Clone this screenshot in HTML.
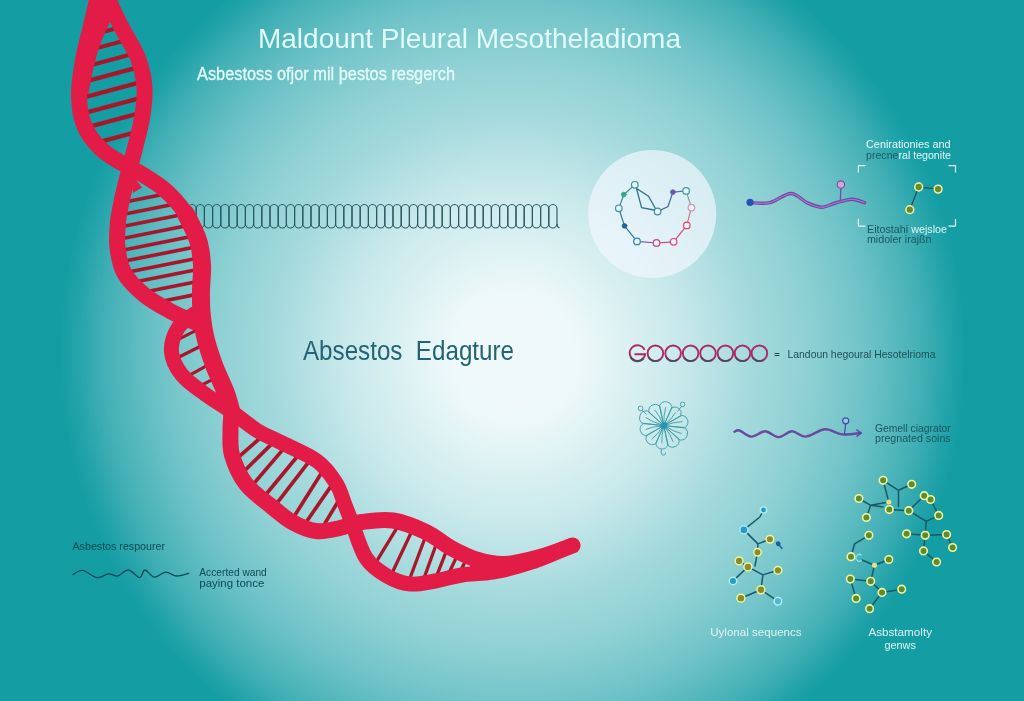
<!DOCTYPE html>
<html lang="en"><head><meta charset="utf-8"><title>Maldount Pleural Mesotheladioma</title>
<style>html,body{margin:0;padding:0;background:#159da4;overflow:hidden}body{width:1024px;height:701px}svg{display:block}text{font-family:"Liberation Sans", sans-serif}</style></head><body>
<svg width="1024" height="701" viewBox="0 0 1024 701">
<defs>
<radialGradient id="bg" cx="0" cy="0" r="1" fx="-0.0095" fy="0.0014" gradientUnits="userSpaceOnUse" gradientTransform="translate(512.27 352.81) rotate(257.26) scale(490.20 487.29)"><stop offset="0.00" stop-color="#eff9fa"/><stop offset="0.03" stop-color="#eff9fa"/><stop offset="0.06" stop-color="#eff9fa"/><stop offset="0.09" stop-color="#eff9fa"/><stop offset="0.12" stop-color="#eef9fa"/><stop offset="0.15" stop-color="#ebf7f8"/><stop offset="0.18" stop-color="#e5f5f6"/><stop offset="0.21" stop-color="#e0f3f4"/><stop offset="0.24" stop-color="#daf0f2"/><stop offset="0.27" stop-color="#d5eef0"/><stop offset="0.30" stop-color="#d0ecee"/><stop offset="0.33" stop-color="#cbeaec"/><stop offset="0.36" stop-color="#c5e7e9"/><stop offset="0.39" stop-color="#bee4e7"/><stop offset="0.42" stop-color="#b6e1e4"/><stop offset="0.45" stop-color="#afdee1"/><stop offset="0.48" stop-color="#a7dbde"/><stop offset="0.51" stop-color="#a1d8db"/><stop offset="0.54" stop-color="#9bd6d9"/><stop offset="0.57" stop-color="#96d3d7"/><stop offset="0.60" stop-color="#90d1d4"/><stop offset="0.63" stop-color="#88ced1"/><stop offset="0.66" stop-color="#80cace"/><stop offset="0.69" stop-color="#78c7cb"/><stop offset="0.72" stop-color="#70c3c8"/><stop offset="0.75" stop-color="#65bfc4"/><stop offset="0.78" stop-color="#5ababf"/><stop offset="0.81" stop-color="#4eb5ba"/><stop offset="0.84" stop-color="#42b0b6"/><stop offset="0.87" stop-color="#32a9af"/><stop offset="0.90" stop-color="#21a2a9"/><stop offset="0.93" stop-color="#159da4"/><stop offset="0.96" stop-color="#159da4"/><stop offset="0.99" stop-color="#159da4"/></radialGradient>
<radialGradient id="bg2" cx="0" cy="0" r="1" gradientUnits="userSpaceOnUse" gradientTransform="translate(400 350) scale(260 270)"><stop offset="0" stop-color="#e6f6f7" stop-opacity="0.55"/><stop offset="0.5" stop-color="#e6f6f7" stop-opacity="0.35"/><stop offset="1" stop-color="#e6f6f7" stop-opacity="0"/></radialGradient>
<radialGradient id="bg3" cx="0.5" cy="0.5" r="0.5"><stop offset="0" stop-color="#dff4f5" stop-opacity="0.2"/><stop offset="0.5" stop-color="#dff4f5" stop-opacity="0.12"/><stop offset="1" stop-color="#dff4f5" stop-opacity="0"/></radialGradient>
<filter id="soft" x="-5%" y="-5%" width="110%" height="110%"><feGaussianBlur stdDeviation="0.35"/></filter>
<filter id="soft2" x="-5%" y="-5%" width="110%" height="110%"><feGaussianBlur stdDeviation="0.5"/></filter>
</defs>
<rect width="1024" height="701" fill="#159da4"/>
<rect width="1024" height="701" fill="url(#bg)"/>
<g fill="none" stroke="#2b5a64" stroke-width="1.15" filter="url(#soft)"><rect x="188.00" y="204.5" width="8.20" height="23.5" rx="4.10" ry="4.6"/><rect x="196.20" y="204.5" width="8.20" height="23.5" rx="4.10" ry="4.6"/><rect x="204.40" y="204.5" width="8.20" height="23.5" rx="4.10" ry="4.6"/><rect x="212.60" y="204.5" width="8.20" height="23.5" rx="4.10" ry="4.6"/><rect x="220.80" y="204.5" width="8.20" height="23.5" rx="4.10" ry="4.6"/><rect x="229.00" y="204.5" width="8.20" height="23.5" rx="4.10" ry="4.6"/><rect x="237.20" y="204.5" width="8.20" height="23.5" rx="4.10" ry="4.6"/><rect x="245.40" y="204.5" width="8.20" height="23.5" rx="4.10" ry="4.6"/><rect x="253.60" y="204.5" width="8.20" height="23.5" rx="4.10" ry="4.6"/><rect x="261.80" y="204.5" width="8.20" height="23.5" rx="4.10" ry="4.6"/><rect x="270.00" y="204.5" width="8.20" height="23.5" rx="4.10" ry="4.6"/><rect x="278.20" y="204.5" width="8.20" height="23.5" rx="4.10" ry="4.6"/><rect x="286.40" y="204.5" width="8.20" height="23.5" rx="4.10" ry="4.6"/><rect x="294.60" y="204.5" width="8.20" height="23.5" rx="4.10" ry="4.6"/><rect x="302.80" y="204.5" width="8.20" height="23.5" rx="4.10" ry="4.6"/><rect x="311.00" y="204.5" width="8.20" height="23.5" rx="4.10" ry="4.6"/><rect x="319.20" y="204.5" width="8.20" height="23.5" rx="4.10" ry="4.6"/><rect x="327.40" y="204.5" width="8.20" height="23.5" rx="4.10" ry="4.6"/><rect x="335.60" y="204.5" width="8.20" height="23.5" rx="4.10" ry="4.6"/><rect x="343.80" y="204.5" width="8.20" height="23.5" rx="4.10" ry="4.6"/><rect x="352.00" y="204.5" width="8.20" height="23.5" rx="4.10" ry="4.6"/><rect x="360.20" y="204.5" width="8.20" height="23.5" rx="4.10" ry="4.6"/><rect x="368.40" y="204.5" width="8.20" height="23.5" rx="4.10" ry="4.6"/><rect x="376.60" y="204.5" width="8.20" height="23.5" rx="4.10" ry="4.6"/><rect x="384.80" y="204.5" width="8.20" height="23.5" rx="4.10" ry="4.6"/><rect x="393.00" y="204.5" width="8.20" height="23.5" rx="4.10" ry="4.6"/><rect x="401.20" y="204.5" width="8.20" height="23.5" rx="4.10" ry="4.6"/><rect x="409.40" y="204.5" width="8.20" height="23.5" rx="4.10" ry="4.6"/><rect x="417.60" y="204.5" width="8.20" height="23.5" rx="4.10" ry="4.6"/><rect x="425.80" y="204.5" width="8.20" height="23.5" rx="4.10" ry="4.6"/><rect x="434.00" y="204.5" width="8.20" height="23.5" rx="4.10" ry="4.6"/><rect x="442.20" y="204.5" width="8.20" height="23.5" rx="4.10" ry="4.6"/><rect x="450.40" y="204.5" width="8.20" height="23.5" rx="4.10" ry="4.6"/><rect x="458.60" y="204.5" width="8.20" height="23.5" rx="4.10" ry="4.6"/><rect x="466.80" y="204.5" width="8.20" height="23.5" rx="4.10" ry="4.6"/><rect x="475.00" y="204.5" width="8.20" height="23.5" rx="4.10" ry="4.6"/><rect x="483.20" y="204.5" width="8.20" height="23.5" rx="4.10" ry="4.6"/><rect x="491.40" y="204.5" width="8.20" height="23.5" rx="4.10" ry="4.6"/><rect x="499.60" y="204.5" width="8.20" height="23.5" rx="4.10" ry="4.6"/><rect x="507.80" y="204.5" width="8.20" height="23.5" rx="4.10" ry="4.6"/><rect x="516.00" y="204.5" width="8.20" height="23.5" rx="4.10" ry="4.6"/><rect x="524.20" y="204.5" width="8.20" height="23.5" rx="4.10" ry="4.6"/><rect x="532.40" y="204.5" width="8.20" height="23.5" rx="4.10" ry="4.6"/><rect x="540.60" y="204.5" width="8.20" height="23.5" rx="4.10" ry="4.6"/><rect x="548.80" y="204.5" width="8.20" height="23.5" rx="4.10" ry="4.6"/><path d="M557 224 q0.5 4 2.5 3.5"/></g>
<clipPath id="lens"><path d="M103.0 -30.0 C102.0 -25.0 99.1 -9.7 97.0 0.0 C94.9 9.7 92.8 18.0 90.5 28.0 C88.2 38.0 84.9 48.8 83.0 60.0 C81.1 71.2 78.8 84.2 79.0 95.0 C79.2 105.8 80.5 116.2 84.0 125.0 C87.5 133.8 94.0 141.8 100.0 148.0 C106.0 154.2 113.3 157.8 120.0 162.0 C126.7 166.2 132.5 168.3 140.0 173.0 C147.5 177.7 157.3 183.2 165.0 190.0 C172.7 196.8 180.5 205.7 186.0 214.0 C191.5 222.3 195.3 231.5 198.0 240.0 C200.7 248.5 201.5 256.7 202.0 265.0 C202.5 273.3 201.1 282.2 201.0 290.0 C200.9 297.8 200.8 304.0 201.5 312.0 C202.2 320.0 203.4 329.2 205.5 338.0 C207.6 346.8 210.7 356.0 214.0 365.0 C217.3 374.0 222.7 384.5 225.5 392.0 C228.3 399.5 230.2 403.7 231.0 410.0 C231.8 416.3 230.3 422.5 230.5 430.0 C230.7 437.5 229.4 446.0 232.0 455.0 C234.6 464.0 239.5 475.5 246.0 484.0 C252.5 492.5 263.3 499.7 271.0 506.0 C278.7 512.3 284.5 517.8 292.0 522.0 C299.5 526.2 308.0 530.0 316.0 531.0 C324.0 532.0 332.3 529.5 340.0 528.0 C347.7 526.5 353.2 523.2 362.0 522.0 C370.8 520.8 382.3 518.8 393.0 520.5 C403.7 522.2 416.3 527.4 426.0 532.0 C435.7 536.6 442.3 543.3 451.0 548.0 C459.7 552.7 469.0 557.3 478.0 560.0 C487.0 562.7 494.7 564.5 505.0 564.0 C515.3 563.5 528.8 560.1 540.0 557.0 C551.2 553.9 567.1 547.4 572.5 545.5 L572.5 545.5 C565.8 548.2 545.1 557.6 532.0 562.0 C518.9 566.4 505.7 569.8 494.0 572.0 C482.3 574.2 471.8 573.5 462.0 575.0 C452.2 576.5 443.7 579.5 435.0 581.0 C426.3 582.5 418.0 584.8 410.0 584.0 C402.0 583.2 394.3 580.3 387.0 576.0 C379.7 571.7 371.8 566.8 366.0 558.0 C360.2 549.2 355.5 531.8 352.0 523.0 C348.5 514.2 347.7 511.7 345.0 505.0 C342.3 498.3 340.7 490.3 336.0 483.0 C331.3 475.7 326.3 467.8 317.0 461.0 C307.7 454.2 290.0 447.1 280.0 442.0 C270.0 436.9 265.3 435.8 257.0 430.5 C248.7 425.2 238.7 416.6 230.0 410.5 C221.3 404.4 213.0 399.9 205.0 394.0 C197.0 388.1 187.6 382.0 182.0 375.0 C176.4 368.0 172.2 359.8 171.5 352.0 C170.8 344.2 174.2 334.3 178.0 328.0 C181.8 321.7 195.3 316.8 194.0 314.0 C192.7 311.2 178.2 314.2 170.0 311.0 C161.8 307.8 152.1 301.2 144.5 295.0 C136.9 288.8 129.0 281.3 124.5 273.5 C120.0 265.7 118.6 256.6 117.5 248.0 C116.4 239.4 117.1 230.8 118.0 222.0 C118.9 213.2 121.0 204.2 123.0 195.0 C125.0 185.8 128.0 174.8 130.0 167.0 C132.0 159.2 133.0 156.2 135.0 148.0 C137.0 139.8 140.4 128.0 142.0 118.0 C143.6 108.0 145.2 98.0 144.5 88.0 C143.8 78.0 141.8 68.0 138.0 58.0 C134.2 48.0 126.8 37.7 122.0 28.0 C117.2 18.3 112.2 9.7 109.0 0.0 C105.8 -9.7 104.0 -25.0 103.0 -30.0 Z"/></clipPath>
<g filter="url(#soft)">
<g stroke="#a8182c" stroke-linecap="butt" clip-path="url(#lens)"><line x1="63.7" y1="42.5" x2="160.3" y2="16.5" stroke-width="4.3"/><line x1="63.7" y1="57.0" x2="160.3" y2="31.0" stroke-width="4.3"/><line x1="63.7" y1="72.5" x2="160.3" y2="46.5" stroke-width="4.3"/><line x1="63.7" y1="87.4" x2="160.3" y2="61.4" stroke-width="4.3"/><line x1="63.7" y1="102.8" x2="160.3" y2="76.8" stroke-width="4.3"/><line x1="63.7" y1="118.7" x2="160.3" y2="92.7" stroke-width="4.3"/><line x1="63.7" y1="133.6" x2="160.3" y2="107.6" stroke-width="4.3"/><line x1="63.7" y1="151.6" x2="160.3" y2="125.6" stroke-width="4.3"/><line x1="101.2" y1="206.8" x2="218.8" y2="183.2" stroke-width="3.7"/><line x1="101.2" y1="218.8" x2="218.8" y2="195.2" stroke-width="3.7"/><line x1="101.2" y1="230.8" x2="218.8" y2="207.2" stroke-width="3.7"/><line x1="101.2" y1="242.8" x2="218.8" y2="219.2" stroke-width="3.7"/><line x1="101.2" y1="254.5" x2="218.8" y2="230.9" stroke-width="3.7"/><line x1="101.2" y1="265.8" x2="218.8" y2="242.2" stroke-width="3.7"/><line x1="101.2" y1="277.6" x2="218.8" y2="254.0" stroke-width="3.7"/><line x1="101.2" y1="288.8" x2="218.8" y2="265.2" stroke-width="3.7"/><line x1="101.2" y1="300.8" x2="218.8" y2="277.2" stroke-width="3.7"/><line x1="101.2" y1="313.5" x2="218.8" y2="289.9" stroke-width="3.7"/><line x1="170.1" y1="361.5" x2="210.9" y2="341.0" stroke-width="3.2"/><line x1="179.2" y1="380.8" x2="217.3" y2="359.9" stroke-width="3.2"/><line x1="193.2" y1="389.7" x2="222.5" y2="374.1" stroke-width="3.2"/><line x1="175.8" y1="340.6" x2="197.2" y2="329.9" stroke-width="3.0"/><line x1="234.5" y1="460.6" x2="265.5" y2="433.4" stroke-width="3.7"/><line x1="238.2" y1="477.0" x2="277.1" y2="438.6" stroke-width="3.7"/><line x1="249.5" y1="488.6" x2="288.2" y2="443.4" stroke-width="3.7"/><line x1="263.6" y1="497.2" x2="302.0" y2="450.7" stroke-width="3.7"/><line x1="275.6" y1="504.9" x2="313.4" y2="455.9" stroke-width="3.7"/><line x1="290.3" y1="522.5" x2="326.5" y2="464.9" stroke-width="3.7"/><line x1="301.6" y1="528.7" x2="336.6" y2="478.1" stroke-width="3.7"/><line x1="321.4" y1="529.1" x2="343.5" y2="492.6" stroke-width="3.7"/><line x1="373.8" y1="565.8" x2="399.2" y2="524.2" stroke-width="3.3"/><line x1="389.6" y1="578.2" x2="414.4" y2="525.8" stroke-width="3.3"/><line x1="407.2" y1="585.5" x2="427.8" y2="530.5" stroke-width="3.3"/><line x1="421.3" y1="585.5" x2="438.7" y2="537.5" stroke-width="3.3"/><line x1="434.1" y1="582.4" x2="448.9" y2="544.6" stroke-width="3.3"/><line x1="445.6" y1="580.2" x2="459.4" y2="550.8" stroke-width="3.3"/><line x1="456.4" y1="579.2" x2="468.6" y2="554.8" stroke-width="3.3"/><line x1="466.4" y1="578.2" x2="476.6" y2="557.8" stroke-width="3.3"/></g>
<g fill="none" stroke="#e21c47" stroke-width="16" stroke-linecap="round" stroke-linejoin="round">
<path d="M103.0 -30.0 C104.0 -25.0 105.8 -9.7 109.0 0.0 C112.2 9.7 117.2 18.3 122.0 28.0 C126.8 37.7 134.2 48.0 138.0 58.0 C141.8 68.0 143.8 78.0 144.5 88.0 C145.2 98.0 143.6 108.0 142.0 118.0 C140.4 128.0 137.0 139.8 135.0 148.0 C133.0 156.2 132.0 159.2 130.0 167.0 C128.0 174.8 125.0 185.8 123.0 195.0 C121.0 204.2 118.9 213.2 118.0 222.0 C117.1 230.8 116.4 239.4 117.5 248.0 C118.6 256.6 120.0 265.7 124.5 273.5 C129.0 281.3 136.9 288.8 144.5 295.0 C152.1 301.2 161.8 306.5 170.0 311.0 C178.2 315.5 190.0 320.2 194.0 322.0"/>
<path d="M194.0 314.0 C191.3 316.3 181.8 321.7 178.0 328.0 C174.2 334.3 170.8 344.2 171.5 352.0 C172.2 359.8 176.4 368.0 182.0 375.0 C187.6 382.0 197.0 388.1 205.0 394.0 C213.0 399.9 221.3 404.4 230.0 410.5 C238.7 416.6 248.7 425.2 257.0 430.5 C265.3 435.8 270.0 436.9 280.0 442.0 C290.0 447.1 307.7 454.2 317.0 461.0 C326.3 467.8 331.3 475.7 336.0 483.0 C340.7 490.3 342.3 498.3 345.0 505.0 C347.7 511.7 348.5 514.2 352.0 523.0 C355.5 531.8 360.2 549.2 366.0 558.0 C371.8 566.8 379.7 571.7 387.0 576.0 C394.3 580.3 402.0 583.2 410.0 584.0 C418.0 584.8 426.3 582.5 435.0 581.0 C443.7 579.5 452.2 576.5 462.0 575.0 C471.8 573.5 482.3 574.2 494.0 572.0 C505.7 569.8 518.9 566.4 532.0 562.0 C545.1 557.6 565.8 548.2 572.5 545.5" stroke-width="15"/>
<path d="M103.0 -30.0 C102.0 -25.0 99.1 -9.7 97.0 0.0 C94.9 9.7 92.8 18.0 90.5 28.0 C88.2 38.0 84.9 48.8 83.0 60.0 C81.1 71.2 78.8 84.2 79.0 95.0 C79.2 105.8 80.5 116.2 84.0 125.0 C87.5 133.8 94.0 141.8 100.0 148.0 C106.0 154.2 113.3 157.8 120.0 162.0 C126.7 166.2 132.5 168.3 140.0 173.0 C147.5 177.7 157.3 183.2 165.0 190.0 C172.7 196.8 180.5 205.7 186.0 214.0 C191.5 222.3 195.3 231.5 198.0 240.0 C200.7 248.5 201.5 256.7 202.0 265.0 C202.5 273.3 201.1 282.2 201.0 290.0 C200.9 297.8 200.8 304.0 201.5 312.0 C202.2 320.0 203.4 329.2 205.5 338.0 C207.6 346.8 210.7 356.0 214.0 365.0 C217.3 374.0 222.7 384.5 225.5 392.0 C228.3 399.5 230.2 403.7 231.0 410.0 C231.8 416.3 230.3 422.5 230.5 430.0 C230.7 437.5 229.4 446.0 232.0 455.0 C234.6 464.0 239.5 475.5 246.0 484.0 C252.5 492.5 263.3 499.7 271.0 506.0 C278.7 512.3 284.5 517.8 292.0 522.0 C299.5 526.2 308.0 530.0 316.0 531.0 C324.0 532.0 332.3 529.5 340.0 528.0 C347.7 526.5 353.2 523.2 362.0 522.0 C370.8 520.8 382.3 518.8 393.0 520.5 C403.7 522.2 416.3 527.4 426.0 532.0 C435.7 536.6 442.3 543.3 451.0 548.0 C459.7 552.7 469.0 557.3 478.0 560.0 C487.0 562.7 494.7 564.5 505.0 564.0 C515.3 563.5 528.8 560.1 540.0 557.0 C551.2 553.9 567.1 547.4 572.5 545.5"/>
<path d="M186.0 214.0 C188.0 218.3 195.3 231.5 198.0 240.0 C200.7 248.5 201.5 256.7 202.0 265.0 C202.5 273.3 201.1 282.2 201.0 290.0 C200.9 297.8 200.8 304.0 201.5 312.0 C202.2 320.0 203.4 329.2 205.5 338.0 C207.6 346.8 210.7 356.0 214.0 365.0 C217.3 374.0 222.7 384.5 225.5 392.0 C228.3 399.5 230.1 407.0 231.0 410.0" stroke-width="18"/>
<path d="M94 -3 L114 -3 L114.5 15 L109.3 23.5 Q102 38 96.5 56 Q92 72 88.5 94 L84 94 L95 30 Z M130 172 L142 187.5 L133 193 Z" fill="#e21c47" stroke="none"/>
</g>
</g>
<g filter="url(#soft)">
<text x="258.0" y="47.7" font-size="28.5" fill="#e2fbfb" text-anchor="start" textLength="423.0" lengthAdjust="spacingAndGlyphs">Maldount Pleural Mesotheladioma</text>
<text x="197.0" y="79.5" font-size="17.5" fill="#e4fbfb" text-anchor="start" textLength="258.0" lengthAdjust="spacingAndGlyphs" stroke="#e4fbfb" stroke-width="0.3">Asbestoss ofjor mil þestos resgerch</text>
<text x="303.0" y="360.0" font-size="27.5" fill="#236474" text-anchor="start" textLength="211.0" lengthAdjust="spacingAndGlyphs" xml:space="preserve">Absestos  Edagture</text>
</g>
<g filter="url(#soft)">
<text x="72.5" y="550.2" font-size="11.0" fill="#0f4a55" text-anchor="start" textLength="92.5" lengthAdjust="spacingAndGlyphs">Asbestos respourer</text>
<path d="M72.4 574.9 C74.1 574.1 78.4 569.9 82.5 570.4 C86.6 570.9 92.8 577.0 97.1 577.6 C101.4 578.2 104.9 574.1 108.3 573.8 C111.7 573.5 113.9 576.6 117.3 576.0 C120.7 575.4 124.8 569.7 128.5 570.0 C132.2 570.3 137.0 577.6 139.7 577.6 C142.4 577.6 142.5 570.1 144.9 570.0 C147.3 569.9 150.9 576.8 154.3 577.2 C157.8 577.6 161.8 572.4 165.6 572.2 C169.3 572.0 172.9 575.9 176.8 576.0 C180.7 576.1 187.1 573.6 189.2 573.1" fill="none" stroke="#0f4a55" stroke-width="1.3"/>
<text x="199.3" y="576.0" font-size="10.5" fill="#0f4a55" text-anchor="start" textLength="67.5" lengthAdjust="spacingAndGlyphs">Accerted wand</text>
<text x="199.3" y="586.8" font-size="10.5" fill="#0f4a55" text-anchor="start" textLength="65.0" lengthAdjust="spacingAndGlyphs">paying tonce</text>
</g>
<circle cx="652.2" cy="213.9" r="64" fill="#f3f8ff" fill-opacity="0.68" filter="url(#soft2)"/>
<g filter="url(#soft)" fill="none" stroke-width="1.2" stroke-linecap="round">
<line x1="634.8" y1="184.8" x2="623.8" y2="194.6" stroke="#2f8f96"/>
<line x1="623.8" y1="194.6" x2="618.8" y2="208.3" stroke="#2f8f96"/>
<line x1="618.8" y1="208.3" x2="624.5" y2="225.9" stroke="#2a7a98"/>
<line x1="624.5" y1="225.9" x2="637.0" y2="241.4" stroke="#2a78a8"/>
<line x1="637.0" y1="241.4" x2="656.5" y2="243.0" stroke="#7a5aa0"/>
<line x1="656.5" y1="243.0" x2="673.6" y2="241.8" stroke="#d8407e"/>
<line x1="673.6" y1="241.8" x2="686.8" y2="225.4" stroke="#e0467a"/>
<line x1="686.8" y1="225.4" x2="691.4" y2="207.6" stroke="#d8708a"/>
<line x1="691.4" y1="207.6" x2="686.1" y2="190.9" stroke="#8a9ab0"/>
<line x1="686.1" y1="190.9" x2="672.9" y2="192.1" stroke="#5a70b0"/>
<path d="M672.9 192.1 L668 206.5 L657.6 211.5" stroke="#3a6a98"/>
<path d="M636.5 188.5 L641.6 207.6 L656.5 210.5 L648.5 196.2 Z" stroke="#2c7488" stroke-width="1.3"/>
<circle cx="634.8" cy="184.8" r="3.3" fill="#e8f5f6" stroke="#3b8fa3" stroke-width="1.2"/>
<circle cx="623.8" cy="194.6" r="2.4" fill="#2fa78c" stroke="#2fa78c" stroke-width="0.8"/>
<circle cx="618.8" cy="208.3" r="3.3" fill="#e8f5f6" stroke="#3b8fa3" stroke-width="1.2"/>
<circle cx="624.5" cy="225.9" r="2.4" fill="#24639b" stroke="#24639b" stroke-width="0.8"/>
<circle cx="637.0" cy="241.4" r="3.3" fill="#e8f5f6" stroke="#2f86b0" stroke-width="1.2"/>
<circle cx="656.5" cy="243.0" r="3.3" fill="#e8f5f6" stroke="#cf3f86" stroke-width="1.2"/>
<circle cx="673.6" cy="241.8" r="3.3" fill="#e8f5f6" stroke="#e0467e" stroke-width="1.2"/>
<circle cx="686.8" cy="225.4" r="3.3" fill="#e8f5f6" stroke="#e0466f" stroke-width="1.2"/>
<circle cx="691.4" cy="207.6" r="3.3" fill="#e8f5f6" stroke="#c79ab8" stroke-width="1.2"/>
<circle cx="686.1" cy="190.9" r="3.3" fill="#e8f5f6" stroke="#3b9aa8" stroke-width="1.2"/>
<circle cx="672.9" cy="192.1" r="2.4" fill="#6a55b0" stroke="#6a55b0" stroke-width="0.8"/>
<circle cx="657.6" cy="211.5" r="3.3" fill="#e8f5f6" stroke="#3b8fa3" stroke-width="1.2"/>
</g>
<g filter="url(#soft)" fill="none" stroke-linecap="round">
<path d="M750.0 202.7 C753.3 202.7 763.2 204.1 770.0 202.6 C776.8 201.1 784.8 193.5 791.0 193.5 C797.2 193.5 801.9 200.4 807.0 202.7 C812.1 205.0 816.6 207.1 821.4 207.2 C826.1 207.2 830.4 204.3 835.5 203.0 C840.6 201.7 847.2 199.2 852.0 199.2 C856.8 199.1 862.4 202.1 864.5 202.7" stroke="#7046a6" stroke-width="3.4"/>
<path d="M750.0 202.7 C753.3 202.7 763.2 204.1 770.0 202.6 C776.8 201.1 784.8 193.5 791.0 193.5 C797.2 193.5 801.9 200.4 807.0 202.7 C812.1 205.0 816.6 207.1 821.4 207.2 C826.1 207.2 830.4 204.3 835.5 203.0 C840.6 201.7 847.2 199.2 852.0 199.2 C856.8 199.1 862.4 202.1 864.5 202.7" stroke="#b886cc" stroke-width="1.1" stroke-opacity="0.85"/>
<path d="M840.9 188.6 L840.3 200.5" stroke="#7a48a8" stroke-width="1.3"/>
<circle cx="840.9" cy="184.6" r="3.7" fill="#d6a6d2" stroke="#7a48a8" stroke-width="1.1"/>
<circle cx="750" cy="202.3" r="3.6" fill="#2a4fb6" stroke="none"/>
</g>
<g filter="url(#soft)">
<path d="M858.4 165.6 v7.0 M858.4 165.6 h7.0 M955.5 165.6 h-7.0 M955.5 165.6 v7.0 M858.4 226.1 v-7.0 M858.4 226.1 h7.0 M955.5 226.1 h-7.0 M955.5 226.1 v-7.0" fill="none" stroke="#e4f6f6" stroke-width="1.2"/>
<path d="M918.7 187 L938.1 189.1 M918.7 187 L909.8 209.7" stroke="#1d4f57" stroke-width="1.2" fill="none"/>
<circle cx="918.7" cy="187.0" r="3.9" fill="#6c8a2c" stroke="#eef6a4" stroke-width="1.5"/>
<circle cx="938.1" cy="189.1" r="3.9" fill="#6c8a2c" stroke="#eef6a4" stroke-width="1.5"/>
<circle cx="909.8" cy="209.7" r="3.9" fill="#6c8a2c" stroke="#eef6a4" stroke-width="1.5"/>
<text x="866.0" y="148.3" font-size="10.5" fill="#e6f8f8" text-anchor="start" textLength="84.5" lengthAdjust="spacingAndGlyphs">Cenirationies and</text>
<text x="866" y="159.3" font-size="10.5" textLength="85" lengthAdjust="spacingAndGlyphs"><tspan fill="#1f5a64">precne</tspan><tspan fill="#e6f8f8">ral tegonite</tspan></text>
<text x="867" y="233" font-size="10.5" textLength="80" lengthAdjust="spacingAndGlyphs"><tspan fill="#1b5560">Eitostahi </tspan><tspan fill="#dff4f4">wejsloe</tspan></text>
<text x="867.0" y="242.6" font-size="10.5" fill="#1b5560" text-anchor="start" textLength="64.5" lengthAdjust="spacingAndGlyphs">midoler irajßn</text>
</g>
<g filter="url(#soft)" fill="none" stroke-width="1.9">
<path d="M644.6 349.8 A7.8 7.8 0 1 0 645.2 354.2 L634.5 354.2" stroke="#ac2a66"/>
<path d="M630.6 357.2 A7.8 7.8 0 0 0 643.5 358.3" stroke="#3f4a5c" stroke-opacity="0.85"/>
<circle cx="655.4" cy="353.3" r="7.8" stroke="#ac2a66"/>
<path d="M648.6 357.2 A7.8 7.8 0 0 0 660.3 359.3" stroke="#3f4a5c" stroke-opacity="0.8"/>
<circle cx="673.1" cy="353.3" r="7.8" stroke="#ac2a66"/>
<path d="M666.3 357.2 A7.8 7.8 0 0 0 678.0 359.3" stroke="#3f4a5c" stroke-opacity="0.8"/>
<circle cx="690.6" cy="353.3" r="7.8" stroke="#ac2a66"/>
<path d="M683.8 357.2 A7.8 7.8 0 0 0 695.5 359.3" stroke="#3f4a5c" stroke-opacity="0.8"/>
<circle cx="708.0" cy="353.3" r="7.8" stroke="#ac2a66"/>
<path d="M701.2 357.2 A7.8 7.8 0 0 0 712.9 359.3" stroke="#3f4a5c" stroke-opacity="0.8"/>
<circle cx="725.4" cy="353.3" r="7.8" stroke="#ac2a66"/>
<path d="M718.6 357.2 A7.8 7.8 0 0 0 730.3 359.3" stroke="#3f4a5c" stroke-opacity="0.8"/>
<circle cx="742.5" cy="353.3" r="7.8" stroke="#ac2a66"/>
<path d="M735.7 357.2 A7.8 7.8 0 0 0 747.4 359.3" stroke="#3f4a5c" stroke-opacity="0.8"/>
<circle cx="759.4" cy="353.3" r="7.8" stroke="#ac2a66"/>
<path d="M752.6 357.2 A7.8 7.8 0 0 0 764.3 359.3" stroke="#3f4a5c" stroke-opacity="0.8"/>
</g>
<g filter="url(#soft)">
<text x="774.3" y="358.0" font-size="9.5" fill="#17454e" text-anchor="start" font-weight="bold">=</text>
<text x="787.5" y="358.4" font-size="10.3" fill="#1e5058" text-anchor="start" textLength="148.0" lengthAdjust="spacingAndGlyphs">Landoun hegoural Hesotelrioma</text>
</g>
<g filter="url(#soft)" fill="none" stroke="#3a98a8" stroke-width="0.85" stroke-linejoin="round">
<path transform="translate(663.8 425.6) rotate(-84.0)" d="M0 0 L19.7 -6.2 A6.6 6.6 0 0 1 19.7 6.2 Z M2 0 Q10.6 -1.5 18.5 0" stroke-opacity="0.95"/>
<path transform="translate(663.8 425.6) rotate(-48.0)" d="M0 0 L18.6 -5.9 A6.2 6.2 0 0 1 18.6 5.9 Z M2 0 Q10.0 1.5 17.5 0" stroke-opacity="0.95"/>
<path transform="translate(663.8 425.6) rotate(-12.0)" d="M0 0 L20.1 -6.3 A6.7 6.7 0 0 1 20.1 6.3 Z M2 0 Q10.8 -1.5 18.9 0" stroke-opacity="0.95"/>
<path transform="translate(663.8 425.6) rotate(24.0)" d="M0 0 L20.8 -6.6 A7.0 7.0 0 0 1 20.8 6.6 Z M2 0 Q11.2 1.5 19.6 0" stroke-opacity="0.95"/>
<path transform="translate(663.8 425.6) rotate(60.0)" d="M0 0 L19.7 -6.2 A6.6 6.6 0 0 1 19.7 6.2 Z M2 0 Q10.6 -1.5 18.5 0" stroke-opacity="0.95"/>
<path transform="translate(663.8 425.6) rotate(96.0)" d="M0 0 L19.0 -6.0 A6.3 6.3 0 0 1 19.0 6.0 Z M2 0 Q10.2 1.5 17.8 0" stroke-opacity="0.95"/>
<path transform="translate(663.8 425.6) rotate(132.0)" d="M0 0 L19.3 -6.1 A6.5 6.5 0 0 1 19.3 6.1 Z M2 0 Q10.4 -1.5 18.2 0" stroke-opacity="0.95"/>
<path transform="translate(663.8 425.6) rotate(168.0)" d="M0 0 L19.7 -6.2 A6.6 6.6 0 0 1 19.7 6.2 Z M2 0 Q10.6 1.5 18.5 0" stroke-opacity="0.95"/>
<path transform="translate(663.8 425.6) rotate(204.0)" d="M0 0 L21.2 -6.7 A7.1 7.1 0 0 1 21.2 6.7 Z M2 0 Q11.4 -1.5 19.9 0" stroke-opacity="0.95"/>
<path transform="translate(663.8 425.6) rotate(240.0)" d="M0 0 L19.3 -6.1 A6.5 6.5 0 0 1 19.3 6.1 Z M2 0 Q10.4 1.5 18.2 0" stroke-opacity="0.95"/>
<circle cx="640.6" cy="408.4" r="2.4"/><path d="M642.2 410.3 L646.5 414.5"/>
<circle cx="682.6" cy="404.4" r="2.3"/><path d="M681.4 406.6 L677.5 411.5"/>
<path d="M661.5 449 q-1.5 3.5 1 6 q3 1 3 -2.5"/>
<circle cx="663.8" cy="425.6" r="3.4" fill="#2a93ad" stroke="none"/>
</g>
<g filter="url(#soft)" fill="none" stroke-linecap="round" stroke-linejoin="round">
<path d="M734.6 431.7 C735.4 431.5 736.6 429.7 739.5 430.5 C742.4 431.3 747.4 436.5 751.7 436.6 C756.0 436.7 760.7 431.2 765.2 431.3 C769.7 431.4 774.1 437.1 778.6 437.1 C783.1 437.1 787.5 431.4 792.0 431.3 C796.5 431.2 800.0 436.9 805.5 436.6 C811.0 436.3 818.9 429.7 825.0 429.3 C831.1 428.9 836.1 433.8 842.0 434.4 C847.9 435.0 857.4 433.2 860.5 433.0" stroke="#6a4a9e" stroke-width="2.4"/>
<path d="M856.8 430 L861.3 433 L857 436.2" stroke="#4a46a4" stroke-width="1.4"/>
<path d="M845.6 424 L844.5 434" stroke="#3f48ae" stroke-width="1.2"/>
<circle cx="845.7" cy="420.8" r="3" stroke="#3f48ae" stroke-width="1.2" fill="#8fd3d8"/>
</g>
<g filter="url(#soft)">
<text x="875.0" y="432.2" font-size="10.8" fill="#1b5560" text-anchor="start" textLength="75.7" lengthAdjust="spacingAndGlyphs">Gemell ciagrator</text>
<text x="875.0" y="442.2" font-size="10.8" fill="#1b5560" text-anchor="start" textLength="75.7" lengthAdjust="spacingAndGlyphs">pregnated soins</text>
</g>
<g filter="url(#soft)">
<path d="M763.5 510.0 L759.8 517.0 M759.8 517.0 L743.9 529.9 M743.9 529.9 L757.9 543.9 M757.9 543.9 L769.9 539.3 M757.9 543.9 L757.5 552.3 M757.5 552.3 L755.0 566.0 M747.9 566.9 L739.1 560.9 M747.9 566.9 L733.0 580.9 M747.9 566.9 L762.9 574.9 M762.9 574.9 L777.9 570.3 M762.9 574.9 L760.9 589.8 M760.9 589.8 L740.9 598.2 M760.9 589.8 L777.9 601.2 " fill="none" stroke="#195a6c" stroke-width="1.5" stroke-linecap="round"/>
<path d="M776.5 542.5 q3 -1.5 3.5 1.5 q-0.5 2.5 -3 1 Z M779 545 L782 548.5" fill="#1c5c9c" stroke="#1c5c9c" stroke-width="1.3" stroke-linecap="round"/>
<circle cx="763.5" cy="510.0" r="3.1" fill="#2b9bc2" stroke="#a9f1fa" stroke-width="1.4"/>
<circle cx="743.9" cy="529.9" r="4.0" fill="#2b9bc2" stroke="#a9f1fa" stroke-width="1.4"/>
<circle cx="769.9" cy="539.3" r="3.8" fill="#8a8c2a" stroke="#eef3a2" stroke-width="1.5"/>
<circle cx="757.5" cy="552.3" r="3.7" fill="#8a8c2a" stroke="#eef3a2" stroke-width="1.5"/>
<circle cx="739.1" cy="560.9" r="3.9" fill="#8a8c2a" stroke="#eef3a2" stroke-width="1.5"/>
<circle cx="747.9" cy="566.9" r="4.0" fill="#8a8c2a" stroke="#eef3a2" stroke-width="1.5"/>
<circle cx="777.9" cy="570.3" r="3.9" fill="#8a8c2a" stroke="#eef3a2" stroke-width="1.5"/>
<circle cx="733.0" cy="580.9" r="3.7" fill="#2b9bc2" stroke="#a9f1fa" stroke-width="1.4"/>
<circle cx="760.9" cy="589.8" r="4.0" fill="#8a8c2a" stroke="#eef3a2" stroke-width="1.5"/>
<circle cx="740.9" cy="598.2" r="4.0" fill="#8a8c2a" stroke="#eef3a2" stroke-width="1.5"/>
<circle cx="777.9" cy="601.2" r="3.8" fill="#4fb7d2" stroke="#b6f4fb" stroke-width="1.4"/>
</g>
<g filter="url(#soft)">
<path d="M883.1 480.3 L898.5 490.3 M898.5 490.3 L911.7 484.3 M898.5 490.3 L898.5 506.5 M883.1 480.3 L888.8 502.1 M858.9 498.5 L870.7 505.3 M870.7 505.3 L866.4 517.5 M870.7 505.3 L888.8 502.1 M870.7 505.3 L883.0 507.0 M888.8 502.1 L889.3 509.6 M889.3 509.6 L908.8 510.7 M908.8 510.7 L924.2 495.7 M930.6 499.5 L938.7 515.4 M938.7 515.4 L926.3 521.4 M908.8 510.7 L926.3 521.4 M926.3 521.4 L925.2 535.3 M906.6 533.8 L925.2 535.3 M925.2 535.3 L946.6 534.6 M946.6 534.6 L952.6 547.5 M925.2 535.3 L923.5 550.9 M923.5 550.9 L936.6 562.0 M868.9 535.3 L854.6 543.8 M854.6 543.8 L851.0 556.7 M862.0 560.0 L874.5 565.2 M874.5 565.2 L888.8 559.5 M874.5 565.2 L870.7 581.3 M850.3 579.1 L870.7 581.3 M850.3 579.1 L856.1 598.4 M870.7 581.3 L882.0 592.4 M882.0 592.4 L901.7 589.2 M882.0 592.4 L869.6 608.7 " fill="none" stroke="#185866" stroke-width="1.5" stroke-linecap="round"/>
<circle cx="883.1" cy="480.3" r="3.8" fill="#5f8a2e" stroke="#f1f79c" stroke-width="1.6"/>
<circle cx="911.7" cy="484.3" r="3.8" fill="#5f8a2e" stroke="#f1f79c" stroke-width="1.6"/>
<circle cx="858.9" cy="498.5" r="3.8" fill="#5f8a2e" stroke="#f1f79c" stroke-width="1.6"/>
<circle cx="889.3" cy="509.6" r="3.8" fill="#5f8a2e" stroke="#f1f79c" stroke-width="1.6"/>
<circle cx="866.4" cy="517.5" r="3.8" fill="#5f8a2e" stroke="#f1f79c" stroke-width="1.6"/>
<circle cx="908.8" cy="510.7" r="3.8" fill="#5f8a2e" stroke="#f1f79c" stroke-width="1.6"/>
<circle cx="924.2" cy="495.7" r="3.8" fill="#5f8a2e" stroke="#f1f79c" stroke-width="1.6"/>
<circle cx="930.6" cy="499.5" r="3.8" fill="#5f8a2e" stroke="#f1f79c" stroke-width="1.6"/>
<circle cx="938.7" cy="515.4" r="3.8" fill="#5f8a2e" stroke="#f1f79c" stroke-width="1.6"/>
<circle cx="906.6" cy="533.8" r="3.8" fill="#5f8a2e" stroke="#f1f79c" stroke-width="1.6"/>
<circle cx="925.2" cy="535.3" r="3.8" fill="#5f8a2e" stroke="#f1f79c" stroke-width="1.6"/>
<circle cx="946.6" cy="534.6" r="3.8" fill="#5f8a2e" stroke="#f1f79c" stroke-width="1.6"/>
<circle cx="952.6" cy="547.5" r="3.8" fill="#5f8a2e" stroke="#f1f79c" stroke-width="1.6"/>
<circle cx="923.5" cy="550.9" r="3.8" fill="#5f8a2e" stroke="#f1f79c" stroke-width="1.6"/>
<circle cx="936.6" cy="562.0" r="3.8" fill="#5f8a2e" stroke="#f1f79c" stroke-width="1.6"/>
<circle cx="868.9" cy="535.3" r="3.8" fill="#5f8a2e" stroke="#f1f79c" stroke-width="1.6"/>
<circle cx="851.0" cy="556.7" r="3.8" fill="#5f8a2e" stroke="#f1f79c" stroke-width="1.6"/>
<circle cx="888.8" cy="559.5" r="3.8" fill="#5f8a2e" stroke="#f1f79c" stroke-width="1.6"/>
<circle cx="850.3" cy="579.1" r="3.8" fill="#5f8a2e" stroke="#f1f79c" stroke-width="1.6"/>
<circle cx="870.7" cy="581.3" r="3.8" fill="#5f8a2e" stroke="#f1f79c" stroke-width="1.6"/>
<circle cx="882.0" cy="592.4" r="3.8" fill="#5f8a2e" stroke="#f1f79c" stroke-width="1.6"/>
<circle cx="901.7" cy="589.2" r="3.8" fill="#5f8a2e" stroke="#f1f79c" stroke-width="1.6"/>
<circle cx="856.1" cy="598.4" r="3.8" fill="#5f8a2e" stroke="#f1f79c" stroke-width="1.6"/>
<circle cx="869.6" cy="608.7" r="3.8" fill="#5f8a2e" stroke="#f1f79c" stroke-width="1.6"/>
<circle cx="888.8" cy="502.1" r="2.2" fill="#e6e27a" stroke="#f2f0a0" stroke-width="0.8"/>
<circle cx="874.5" cy="565.2" r="2.2" fill="#e6e27a" stroke="#f2f0a0" stroke-width="0.8"/>
<path d="M861.5 555.2 A3.4 3.4 0 1 0 861.8 560.2" fill="none" stroke="#8fe3f2" stroke-width="1.2"/>
</g>
<g filter="url(#soft)">
<text x="710.2" y="635.8" font-size="11.2" fill="#dcf3f3" text-anchor="start" textLength="91.4" lengthAdjust="spacingAndGlyphs">Uylonal sequencs</text>
<text x="868.4" y="635.8" font-size="11.2" fill="#dcf3f3" text-anchor="start" textLength="63.6" lengthAdjust="spacingAndGlyphs">Asbstamolty</text>
<text x="884.5" y="649.0" font-size="11.2" fill="#dcf3f3" text-anchor="start" textLength="31.4" lengthAdjust="spacingAndGlyphs">genws</text>
</g>
</svg></body></html>
